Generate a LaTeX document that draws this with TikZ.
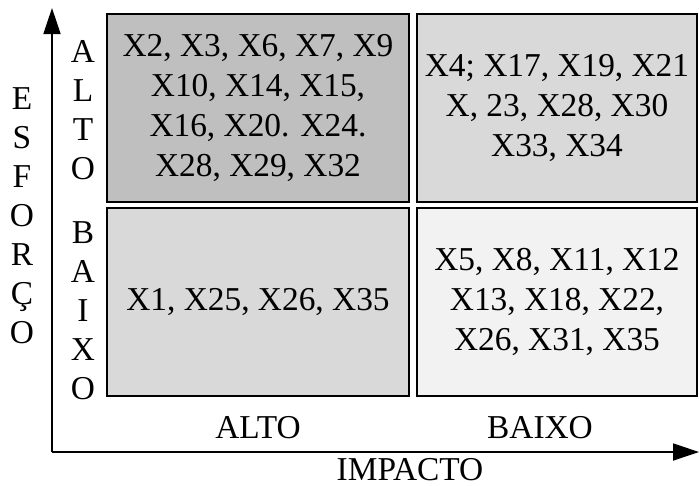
\documentclass[tikz,border=0pt]{standalone}
\usepackage{fontspec}
\setmainfont{Liberation Serif}
\usetikzlibrary{arrows.meta, positioning}

\begin{document}
\begin{tikzpicture}[x=0.02cm, y=-0.02cm,
    every node/.style={font=\fontsize{19}{22.7}\selectfont, align=center},
    quad/.style={rectangle, draw, line width=1pt, minimum height=3.76cm, text centered, inner sep=2pt},
    axis/.style={line width=1pt, -{Triangle[length=0.52cm, width=0.34cm]}},
    vlabel/.style={font=\fontsize{19}{22.2}\selectfont, inner sep=0pt}]
\useasboundingbox (0,0) rectangle (699,485);

% Quadrants
\node[quad, fill=black!25, minimum width=6.04cm] (altoalto) at (258,108)
  {X2, X3, X6, X7, X9\\ X10, X14, X15,\\ X16, X20. X24.\\ X28, X29, X32};
\node[quad, fill=black!15, minimum width=5.6cm] (altobaixo) at (557,108)
  {X4; X17, X19, X21\\ X, 23, X28, X30\\ X33, X34};
\node[quad, fill=black!15, minimum width=6.04cm] (baixoalto) at (258,302)
  {X1, X25, X26, X35};
\node[quad, fill=black!5, minimum width=5.6cm] (baixobaixo) at (557,302)
  {X5, X8, X11, X12\\ X13, X18, X22,\\ X26, X31, X35};

% Axes
\coordinate (origin) at (52,452);
\coordinate (ytip) at (52,8);
\coordinate (xtip) at (699,452);
\draw[axis] (origin) -- (ytip);
\draw[axis] (origin) -- (xtip);

% Axis labels
\node[vlabel] (esforco) at (22,216) {E\\S\\F\\O\\R\\Ç\\O};
\node[vlabel] (yalto) at (83,110) {A\\L\\T\\O};
\node[vlabel] (ybaixo) at (83,311) {B\\A\\I\\X\\O};
\node (xalto) at (258,428) {ALTO};
\node (xbaixo) at (540,428) {BAIXO};
\node (impacto) at (410,470) {IMPACTO};

\end{tikzpicture}
\end{document}
